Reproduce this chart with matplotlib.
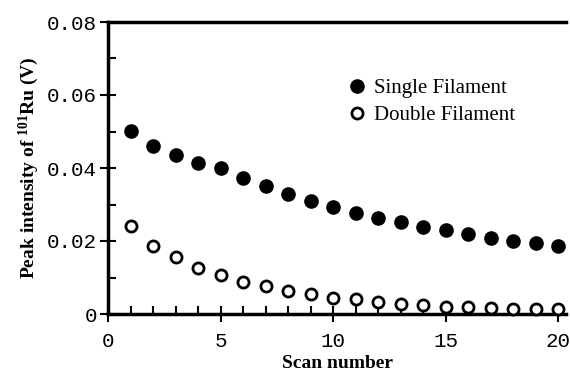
import matplotlib
matplotlib.use("Agg")
import matplotlib.pyplot as plt
from matplotlib.ticker import MultipleLocator

scan = list(range(1, 21))
single = [0.0502, 0.0461, 0.0435, 0.0415, 0.0401, 0.0373, 0.0351, 0.0330, 0.0310, 0.0294,
          0.0277, 0.0264, 0.0253, 0.0239, 0.0230, 0.0220, 0.0209, 0.0200, 0.0195, 0.0187]
double = [0.0241, 0.0187, 0.0156, 0.0127, 0.0106, 0.0089, 0.0077, 0.0063, 0.0054, 0.0045,
          0.0040, 0.0033, 0.0028, 0.0025, 0.0019, 0.0018, 0.0016, 0.0015, 0.0014, 0.0013]
xticks = [0, 5, 10, 15, 20]
yticks = [0, 0.02, 0.04, 0.06, 0.08]
ytick_labels = ["0", "0.02", "0.04", "0.06", "0.08"]

plt.rcParams['mathtext.fontset'] = 'custom'
plt.rcParams['mathtext.rm'] = 'Liberation Serif'
plt.rcParams['mathtext.bf'] = 'Liberation Serif:bold'

fig = plt.figure(figsize=(5.7, 3.76), dpi=100)
ax = fig.add_axes([108/570, 1-314/376, (566-108)/570, (314-22)/376])

ax.plot(scan, single, 'o', color='black', markersize=9.5, label='Single Filament', clip_on=False, zorder=3)
ax.plot(scan, double, 'o', markerfacecolor='white', markeredgecolor='black', markeredgewidth=2,
        markersize=8, label='Double Filament', clip_on=False, zorder=3)

ax.set_xlim(0, 20.35)
ax.set_ylim(0, 0.08)
ax.set_xticks(xticks)
ax.set_yticks(yticks)
ax.set_yticklabels(ytick_labels)
ax.xaxis.set_minor_locator(MultipleLocator(1))
ax.yaxis.set_minor_locator(MultipleLocator(0.01))

for s in ['left', 'bottom', 'top']:
    ax.spines[s].set_linewidth(2.5)
ax.spines['right'].set_visible(False)

ax.tick_params(which='major', direction='inout', length=12, width=1.5,
               top=False, right=False, labelsize=15)
ax.tick_params(axis='x', which='major', pad=7)
ax.tick_params(axis='y', which='major', pad=2)
ax.tick_params(which='minor', direction='in', length=6, width=1.5, top=False, right=False)
for lab in ax.get_xticklabels() + ax.get_yticklabels():
    lab.set_fontfamily('Liberation Mono')

ax.set_xlabel('Scan number', fontfamily='Liberation Serif', fontweight='bold', fontsize=14, labelpad=3)
ax.set_ylabel(r'Peak intensity of $\mathbf{^{101}}$Ru (V)', fontfamily='Liberation Serif',
              fontweight='bold', fontsize=14, labelpad=4)

leg = ax.legend(loc='upper left', bbox_to_anchor=(0.48, 0.87), frameon=False,
                prop={'family': 'Liberation Serif', 'size': 15}, handletextpad=0.3,
                labelspacing=0.35, handlelength=1.0)

fig.savefig('out.png', dpi=100)
